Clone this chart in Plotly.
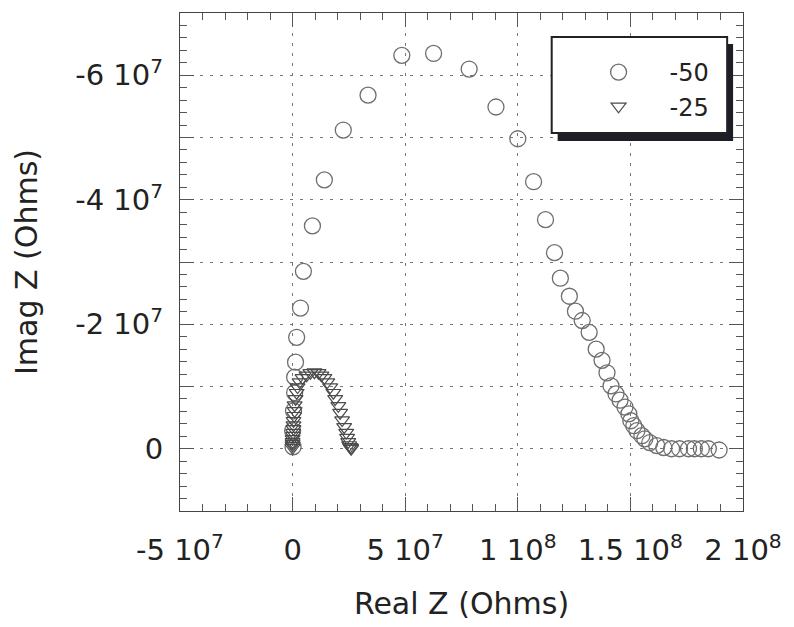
import plotly.graph_objects as go

# Series "-50" (circles): Real Z and Imag Z in Ohms
real_50 = [0.2e6, 0.0e6, 0.4e6, 0.9e6, 0.9e6, 1.3e6, 1.8e6, 3.5e6, 4.8e6, 8.8e6,
           14.1e6, 22.5e6, 33.5e6, 48.5e6, 62.6e6, 78.4e6, 90.3e6, 100.0e6, 107.0e6, 112.3e6,
           116.3e6, 118.9e6, 122.9e6, 125.6e6, 128.6e6, 131.7e6, 134.8e6, 137.4e6, 139.6e6, 141.4e6,
           143.6e6, 145.4e6, 147.6e6, 149.3e6, 150.2e6, 151.5e6, 152.9e6, 155.1e6, 156.4e6, 158.6e6,
           161.7e6, 164.8e6, 168.3e6, 171.8e6, 175.8e6, 178.4e6, 181.5e6, 184.6e6, 189.4e6]
imag_50 = [-0.3e6, -2.9e6, -6.1e6, -9.0e6, -11.5e6, -13.9e6, -17.9e6, -22.6e6, -28.5e6, -35.8e6,
           -43.2e6, -51.2e6, -56.8e6, -63.2e6, -63.5e6, -61.0e6, -54.9e6, -49.8e6, -42.9e6, -36.8e6,
           -31.5e6, -27.4e6, -24.5e6, -22.1e6, -20.6e6, -18.7e6, -16.0e6, -14.2e6, -12.2e6, -10.1e6,
           -8.8e6, -7.8e6, -6.7e6, -5.6e6, -4.5e6, -3.7e6, -2.9e6, -2.1e6, -1.6e6, -1.0e6,
           -0.5e6, -0.2e6, 0.0e6, 0.0e6, 0.0e6, 0.0e6, 0.0e6, 0.0e6, 0.2e6]

# Series "-25" (down triangles)
real_25 = [0.0e6, 0.0e6, 0.0e6, 0.0e6, 0.0e6, 0.2e6, 0.2e6, 0.4e6, 0.4e6, 0.4e6,
           0.7e6, 0.9e6, 0.9e6, 1.3e6, 1.8e6, 2.2e6, 3.1e6, 4.4e6, 6.2e6, 7.9e6,
           9.7e6, 11.5e6, 12.8e6, 14.1e6, 15.4e6, 16.7e6, 18.1e6, 18.9e6, 20.3e6, 21.1e6,
           22.0e6, 22.9e6, 23.8e6, 24.2e6, 24.7e6, 25.1e6, 25.5e6, 26.0e6, 26.0e6]
imag_25 = [-0.16e6, -0.5e6, -0.8e6, -1.1e6, -1.6e6, -2.1e6, -2.6e6, -3.2e6, -3.8e6, -4.5e6,
           -5.3e6, -6.1e6, -7.0e6, -8.0e6, -9.0e6, -9.9e6, -10.7e6, -11.4e6, -11.8e6, -12.2e6,
           -12.3e6, -12.2e6, -11.8e6, -11.4e6, -10.7e6, -9.9e6, -9.0e6, -8.0e6, -6.9e6, -5.8e6,
           -4.6e6, -3.5e6, -2.6e6, -1.8e6, -1.1e6, -0.6e6, -0.3e6, -0.2e6, 0.0e6]

x_tickvals = [-5e7, 0, 5e7, 1e8, 1.5e8, 2e8]
x_ticktext = ["-5 10<sup>7</sup>", "0", "5 10<sup>7</sup>", "1 10<sup>8</sup>",
              "1.5 10<sup>8</sup>", "2 10<sup>8</sup>"]
y_tickvals = [1e7, 0, -1e7, -2e7, -3e7, -4e7, -5e7, -6e7, -7e7]
y_ticktext = ["", "0", "", "-2 10<sup>7</sup>", "", "-4 10<sup>7</sup>", "", "-6 10<sup>7</sup>", ""]

FONT = "DejaVu Sans, Liberation Sans, Arial, sans-serif"

fig = go.Figure()
fig.add_trace(go.Scatter(
    x=real_50, y=imag_50, mode="markers", name="-50",
    marker=dict(symbol="circle-open", size=16, color="#6e6e6e", line=dict(width=1.3)),
))
fig.add_trace(go.Scatter(
    x=real_25, y=imag_25, mode="markers", name="-25",
    marker=dict(symbol="triangle-down-open", size=13, color="#4a4a4a", line=dict(width=1.2)),
))

L, R, T, B = 180, 46, 13, 116
W, H = 794, 627
pw, ph = W - L - R, H - T - B

def px_x(p):
    return (p - L) / pw

def px_y(p):
    return (H - B - p) / ph

axis_common = dict(
    showline=True, linecolor="#444", linewidth=1, mirror="allticks",
    ticks="inside", tickcolor="#555", tickwidth=1,
    showgrid=True, gridcolor="#777", gridwidth=1, griddash="3px,7px",
    zeroline=False,
    tickfont=dict(family=FONT, size=29, color="#222"),
    tickmode="array",
)

fig.update_xaxes(
    **axis_common,
    range=[-5e7, 2e8], tickvals=x_tickvals, ticktext=x_ticktext, ticklen=14,
    ticklabelstandoff=13,
    minor=dict(dtick=1e7, tick0=0, ticks="inside", ticklen=7, tickcolor="#555", showgrid=False),
    title=dict(text="Real Z (Ohms)", font=dict(family=FONT, size=30, color="#222"), standoff=27),
)
fig.update_yaxes(
    **axis_common,
    range=[1e7, -7e7], tickvals=y_tickvals, ticktext=y_ticktext, ticklen=14,
    ticklabelstandoff=10,
    minor=dict(dtick=2e6, tick0=0, ticks="inside", ticklen=7, tickcolor="#555", showgrid=False),
    title=dict(text="Imag Z (Ohms)", font=dict(family=FONT, size=30, color="#222"), standoff=28),
)

# legend frame with drop shadow
fig.add_shape(type="rect", xref="paper", yref="paper", layer="above",
              x0=px_x(561), x1=px_x(738), y0=px_y(141), y1=px_y(44),
              fillcolor="#1e1e28", line=dict(width=0))
fig.add_shape(type="rect", xref="paper", yref="paper", layer="above",
              x0=px_x(555), x1=px_x(732), y0=px_y(133), y1=px_y(37),
              fillcolor="white", line=dict(color="#222", width=2))

fig.update_layout(
    width=W, height=H,
    margin=dict(l=L, r=R, t=T, b=B, pad=0),
    paper_bgcolor="white", plot_bgcolor="white",
    showlegend=True,
    legend=dict(
        x=px_x(571), y=px_y(50), xanchor="left", yanchor="top",
        bgcolor="rgba(0,0,0,0)", borderwidth=0,
        font=dict(family=FONT, size=24, color="#222"),
        itemwidth=92, tracegroupgap=0,
    ),
)

fig.write_html("out.html")
